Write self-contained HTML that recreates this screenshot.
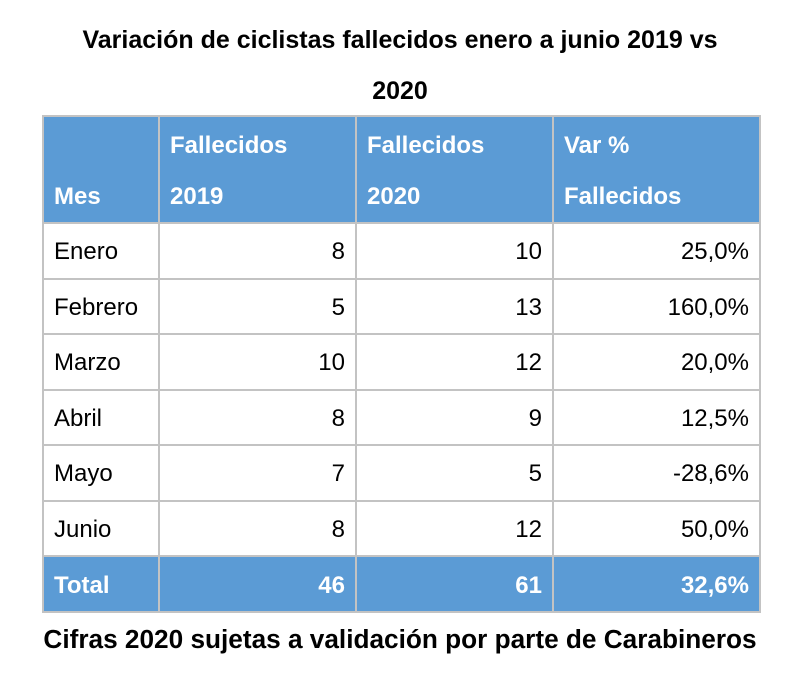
<!DOCTYPE html>
<html><head><style>
body{margin:0;width:800px;height:683px;background:#fff;font-family:"Liberation Sans",Arial,sans-serif;color:#000;position:relative;overflow:hidden}
.t{position:absolute;left:0;width:800px;text-align:center;font-weight:bold;font-size:25px;white-space:nowrap}
table{position:absolute;left:42px;top:115px;border-collapse:collapse;table-layout:fixed;font-size:24px}
td{border:2px solid #c3c3c3;padding:3px 10px 0 10px;box-sizing:border-box;white-space:nowrap}
tr.h td{background:#5b9bd5;color:#fff;font-weight:bold;vertical-align:top;height:105px;padding-top:3px;padding-bottom:0;line-height:51px}
tr.h td.m{vertical-align:bottom;padding-bottom:0}
tr.f td{background:#5b9bd5;color:#fff;font-weight:bold;height:56px}
tr.r td{height:55.5px}
.n{text-align:right}
</style></head><body>
<div class="t" style="top:26px">Variación de ciclistas fallecidos enero a junio 2019 vs</div>
<div class="t" style="top:77px">2020</div>
<table>
<colgroup><col style="width:116px"><col style="width:197px"><col style="width:197px"><col style="width:207px"></colgroup>
<tr class="h"><td class="m">Mes</td><td>Fallecidos<br>2019</td><td>Fallecidos<br>2020</td><td>Var %<br>Fallecidos</td></tr>
<tr class="r"><td>Enero</td><td class="n">8</td><td class="n">10</td><td class="n">25,0%</td></tr>
<tr class="r"><td>Febrero</td><td class="n">5</td><td class="n">13</td><td class="n">160,0%</td></tr>
<tr class="r"><td>Marzo</td><td class="n">10</td><td class="n">12</td><td class="n">20,0%</td></tr>
<tr class="r"><td>Abril</td><td class="n">8</td><td class="n">9</td><td class="n">12,5%</td></tr>
<tr class="r"><td>Mayo</td><td class="n">7</td><td class="n">5</td><td class="n">-28,6%</td></tr>
<tr class="r"><td>Junio</td><td class="n">8</td><td class="n">12</td><td class="n">50,0%</td></tr>
<tr class="f"><td>Total</td><td class="n">46</td><td class="n">61</td><td class="n">32,6%</td></tr>
</table>
<div class="t" style="top:624px;font-size:26.2px">Cifras 2020 sujetas a validación por parte de Carabineros</div>
</body></html>
